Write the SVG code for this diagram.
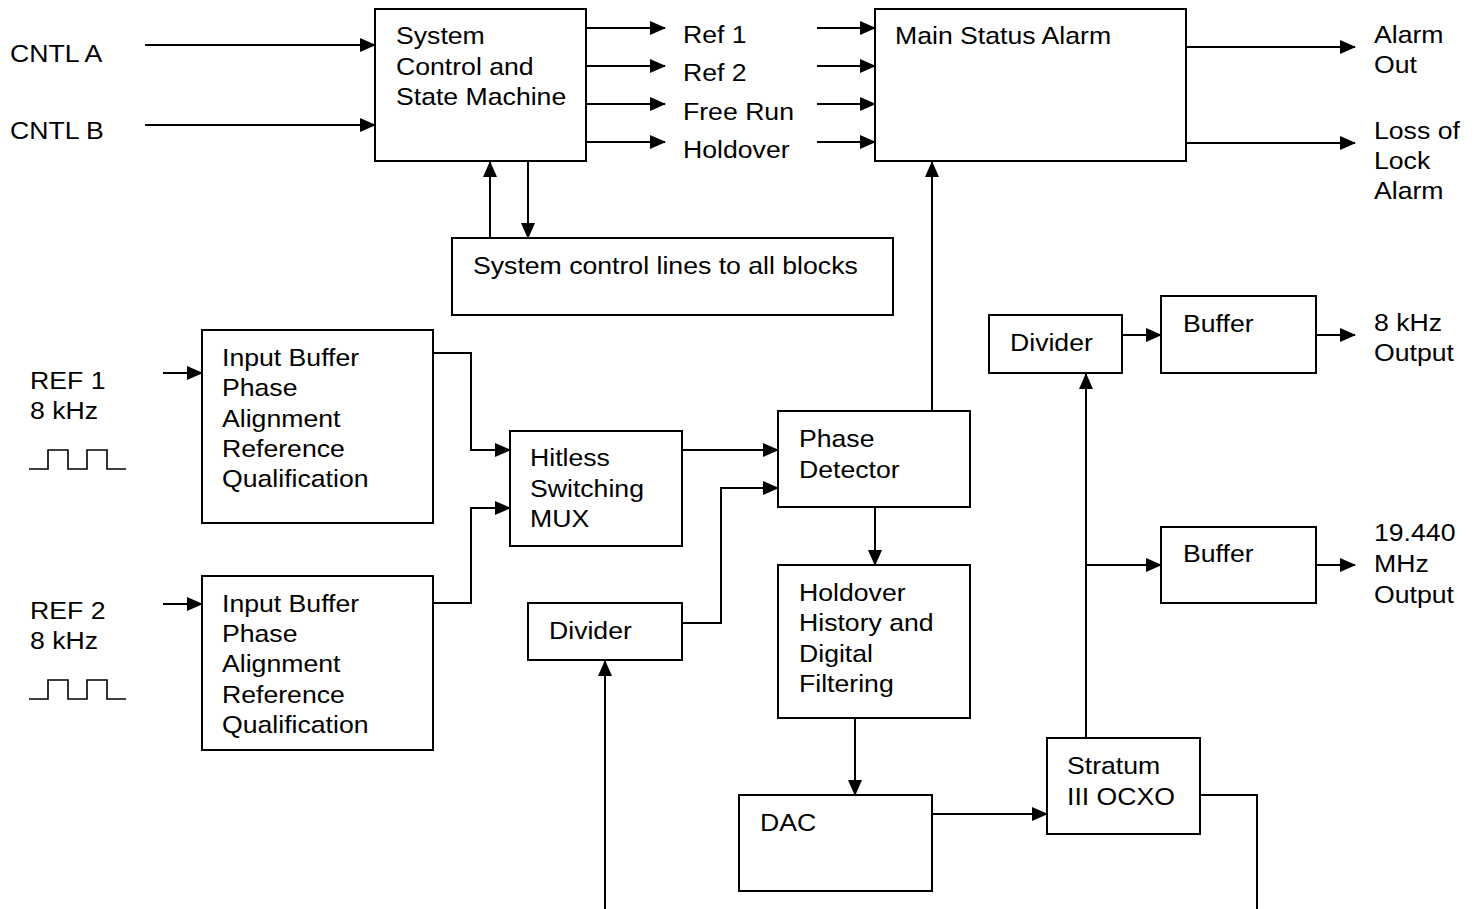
<svg xmlns="http://www.w3.org/2000/svg" width="1476" height="909" viewBox="0 0 1476 909">
<defs>
<marker id="arr" markerUnits="userSpaceOnUse" markerWidth="16" markerHeight="14" refX="15" refY="7" orient="auto">
<path d="M0,0 L16,7 L0,14 Z" fill="#000"/>
</marker>
</defs>
<style>
.box{fill:#fff;stroke:#000;stroke-width:2}
.c{fill:none;stroke:#000;stroke-width:2}
.w{fill:none;stroke:#000;stroke-width:1.6}
.a{fill:none;stroke:#000;stroke-width:2;marker-end:url(#arr)}
text{font-family:"Liberation Sans",Arial,sans-serif;font-size:24px;fill:#000;transform-box:fill-box;transform-origin:0 0;transform:scaleX(1.11)}
</style>
<rect width="1476" height="909" fill="#fff"/>
<g id="connectors">
<line class="a" x1="145" y1="45" x2="375" y2="45"/>
<line class="a" x1="145" y1="125" x2="375" y2="125"/>
<line class="a" x1="586" y1="28" x2="665" y2="28"/>
<line class="a" x1="586" y1="66" x2="665" y2="66"/>
<line class="a" x1="586" y1="104" x2="665" y2="104"/>
<line class="a" x1="586" y1="142" x2="665" y2="142"/>
<line class="a" x1="817" y1="28" x2="875" y2="28"/>
<line class="a" x1="817" y1="66" x2="875" y2="66"/>
<line class="a" x1="817" y1="104" x2="875" y2="104"/>
<line class="a" x1="817" y1="142" x2="875" y2="142"/>
<line class="a" x1="1186" y1="47" x2="1355" y2="47"/>
<line class="a" x1="1186" y1="143" x2="1355" y2="143"/>
<line class="a" x1="490" y1="238" x2="490" y2="162"/>
<line class="a" x1="528" y1="161" x2="528" y2="238"/>
<line class="a" x1="932" y1="411" x2="932" y2="162"/>
<line class="a" x1="163" y1="373" x2="202" y2="373"/>
<line class="a" x1="163" y1="604" x2="202" y2="604"/>
<polyline class="a" points="433,353 471,353 471,450 510,450"/>
<polyline class="a" points="433,603 471,603 471,508 510,508"/>
<line class="a" x1="682" y1="450" x2="778" y2="450"/>
<polyline class="a" points="682,623 721,623 721,488 778,488"/>
<line class="a" x1="605" y1="909" x2="605" y2="661"/>
<line class="a" x1="875" y1="507" x2="875" y2="565"/>
<line class="a" x1="855" y1="718" x2="855" y2="795"/>
<line class="a" x1="932" y1="814" x2="1047" y2="814"/>
<polyline class="c" points="1200,795 1257,795 1257,909"/>
<line class="a" x1="1086" y1="738" x2="1086" y2="374"/>
<line class="a" x1="1122" y1="335" x2="1161" y2="335"/>
<line class="a" x1="1316" y1="335" x2="1355" y2="335"/>
<line class="a" x1="1086" y1="565" x2="1161" y2="565"/>
<line class="a" x1="1316" y1="565" x2="1355" y2="565"/>
<polyline class="w" points="29,469 48,469 48,450 68,450 68,469 87,469 87,450 107,450 107,469 126,469"/>
<polyline class="w" points="29,699 48,699 48,680 68,680 68,699 87,699 87,680 107,680 107,699 126,699"/>
</g>
<g id="labels">
<text x="10" y="62">CNTL A</text>
<text x="10" y="139">CNTL B</text>
<text x="683" y="43">Ref 1</text>
<text x="683" y="81">Ref 2</text>
<text x="683" y="120">Free Run</text>
<text x="683" y="158">Holdover</text>
<text x="1374" y="43">Alarm</text>
<text x="1374" y="73">Out</text>
<text x="1374" y="139">Loss of</text>
<text x="1374" y="169">Lock</text>
<text x="1374" y="199">Alarm</text>
<text x="30" y="389">REF 1</text>
<text x="30" y="419">8 kHz</text>
<text x="30" y="619">REF 2</text>
<text x="30" y="649">8 kHz</text>
<text x="1374" y="331">8 kHz</text>
<text x="1374" y="361">Output</text>
<text x="1374" y="541">19.440</text>
<text x="1374" y="572">MHz</text>
<text x="1374" y="603">Output</text>
</g>
<g id="sysctl">
<rect class="box" x="375" y="9" width="211" height="152"/>
<text x="396" y="44">System</text>
<text x="396" y="75">Control and</text>
<text x="396" y="105">State Machine</text>
</g>
<g id="mainalarm">
<rect class="box" x="875" y="9" width="311" height="152"/>
<text x="895" y="44">Main Status Alarm</text>
</g>
<g id="ctllines">
<rect class="box" x="452" y="238" width="441" height="77"/>
<text x="473" y="274">System control lines to all blocks</text>
</g>
<g id="inbuf1">
<rect class="box" x="202" y="330" width="231" height="193"/>
<text x="222" y="366">Input Buffer</text>
<text x="222" y="396">Phase</text>
<text x="222" y="427">Alignment</text>
<text x="222" y="457">Reference</text>
<text x="222" y="487">Qualification</text>
</g>
<g id="inbuf2">
<rect class="box" x="202" y="576" width="231" height="174"/>
<text x="222" y="612">Input Buffer</text>
<text x="222" y="642">Phase</text>
<text x="222" y="672">Alignment</text>
<text x="222" y="703">Reference</text>
<text x="222" y="733">Qualification</text>
</g>
<g id="mux">
<rect class="box" x="510" y="431" width="172" height="115"/>
<text x="530" y="466">Hitless</text>
<text x="530" y="497">Switching</text>
<text x="530" y="527">MUX</text>
</g>
<g id="phasedet">
<rect class="box" x="778" y="411" width="192" height="96"/>
<text x="799" y="447">Phase</text>
<text x="799" y="478">Detector</text>
</g>
<g id="divider1">
<rect class="box" x="528" y="603" width="154" height="57"/>
<text x="549" y="639">Divider</text>
</g>
<g id="holdover">
<rect class="box" x="778" y="565" width="192" height="153"/>
<text x="799" y="601">Holdover</text>
<text x="799" y="631">History and</text>
<text x="799" y="662">Digital</text>
<text x="799" y="692">Filtering</text>
</g>
<g id="dac">
<rect class="box" x="739" y="795" width="193" height="96"/>
<text x="760" y="831">DAC</text>
</g>
<g id="ocxo">
<rect class="box" x="1047" y="738" width="153" height="96"/>
<text x="1067" y="774">Stratum</text>
<text x="1067" y="805">III OCXO</text>
</g>
<g id="divider2">
<rect class="box" x="989" y="315" width="133" height="58"/>
<text x="1010" y="351">Divider</text>
</g>
<g id="buffer1">
<rect class="box" x="1161" y="296" width="155" height="77"/>
<text x="1183" y="332">Buffer</text>
</g>
<g id="buffer2">
<rect class="box" x="1161" y="527" width="155" height="76"/>
<text x="1183" y="562">Buffer</text>
</g>
</svg>
